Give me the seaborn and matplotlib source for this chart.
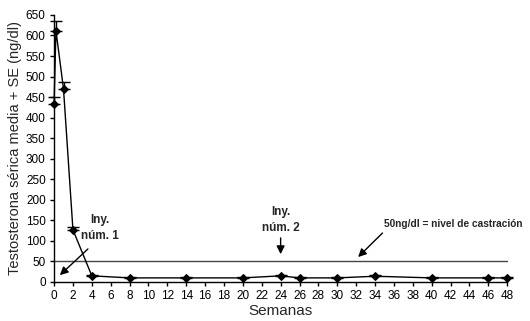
import numpy as np
import pandas as pd
import matplotlib
matplotlib.use('Agg')
import matplotlib.pyplot as plt
import seaborn as sns

# Data
semanas = [0, 0.2, 1, 2, 4, 8, 14, 20, 24, 26, 30, 34, 40, 46, 48]
testosterona = [432, 612, 470, 127, 15, 10, 10, 10, 15, 10, 10, 14, 10, 10, 10]
se = [18, 24, 16, 8, 1, 1, 1, 1, 1, 1, 1, 3, 1, 1, 1]
nivel_castracion = 50

sns.set_style('ticks')
plt.rcParams['font.family'] = ['Liberation Sans', 'DejaVu Sans']

df = pd.DataFrame({'semanas': semanas, 'testosterona': testosterona, 'se': se})

fig = plt.figure(figsize=(5.30, 3.21), dpi=100)
ax = fig.add_axes([0.102, 0.1215, 0.855, 0.832])

ax.axhline(nivel_castracion, color='#444444', lw=1.0, zorder=1)
ax.errorbar(df['semanas'], df['testosterona'],
            yerr=[np.zeros(len(se)), df['se']], fmt='none',
            ecolor='black', elinewidth=1, capsize=4, capthick=1, zorder=2)
sns.lineplot(data=df, x='semanas', y='testosterona', ax=ax, color='black',
             marker='D', markersize=4, markeredgecolor='black', lw=1, zorder=3)
for ln in ax.lines:
    ln.set_clip_on(False)

ax.set_xlim(0, 48)
ax.set_ylim(0, 650)
ax.set_xticks(range(0, 49, 2))
ax.set_yticks(range(0, 651, 50))
ax.tick_params(labelsize=8.5, length=3, width=1, colors='black', pad=3)
sns.despine(ax=ax)
for s in ['left', 'bottom']:
    ax.spines[s].set_color('black')
    ax.spines[s].set_linewidth(1)

ax.set_xlabel('Semanas', fontsize=11, labelpad=1)
ax.set_ylabel('Testosterona sérica media + SE (ng/dl)', fontsize=10.5, labelpad=3)

arrow = dict(arrowstyle='-|>', color='black', lw=1, mutation_scale=12)
ax.annotate('Iny.\nnúm. 1', xy=(0.4, 12), xytext=(4.9, 98), ha='center', va='bottom',
            fontsize=8.5, fontweight='bold', linespacing=1.4)
ax.annotate('', xy=(0.4, 12), xytext=(3.8, 85), arrowprops=arrow)
ax.annotate('Iny.\nnúm. 2', xy=(24, 61), xytext=(24, 118), ha='center', va='bottom',
            fontsize=8.5, fontweight='bold', linespacing=1.4)
ax.annotate('', xy=(24, 61), xytext=(24, 114), arrowprops=arrow)
ax.annotate('50ng/dl = nivel de castración', xy=(32, 56), xytext=(34.9, 130),
            ha='left', va='bottom', fontsize=7.3, fontweight='bold')
ax.annotate('', xy=(32, 56), xytext=(35.0, 124), arrowprops=arrow)

fig.savefig('out.png', dpi=100)
